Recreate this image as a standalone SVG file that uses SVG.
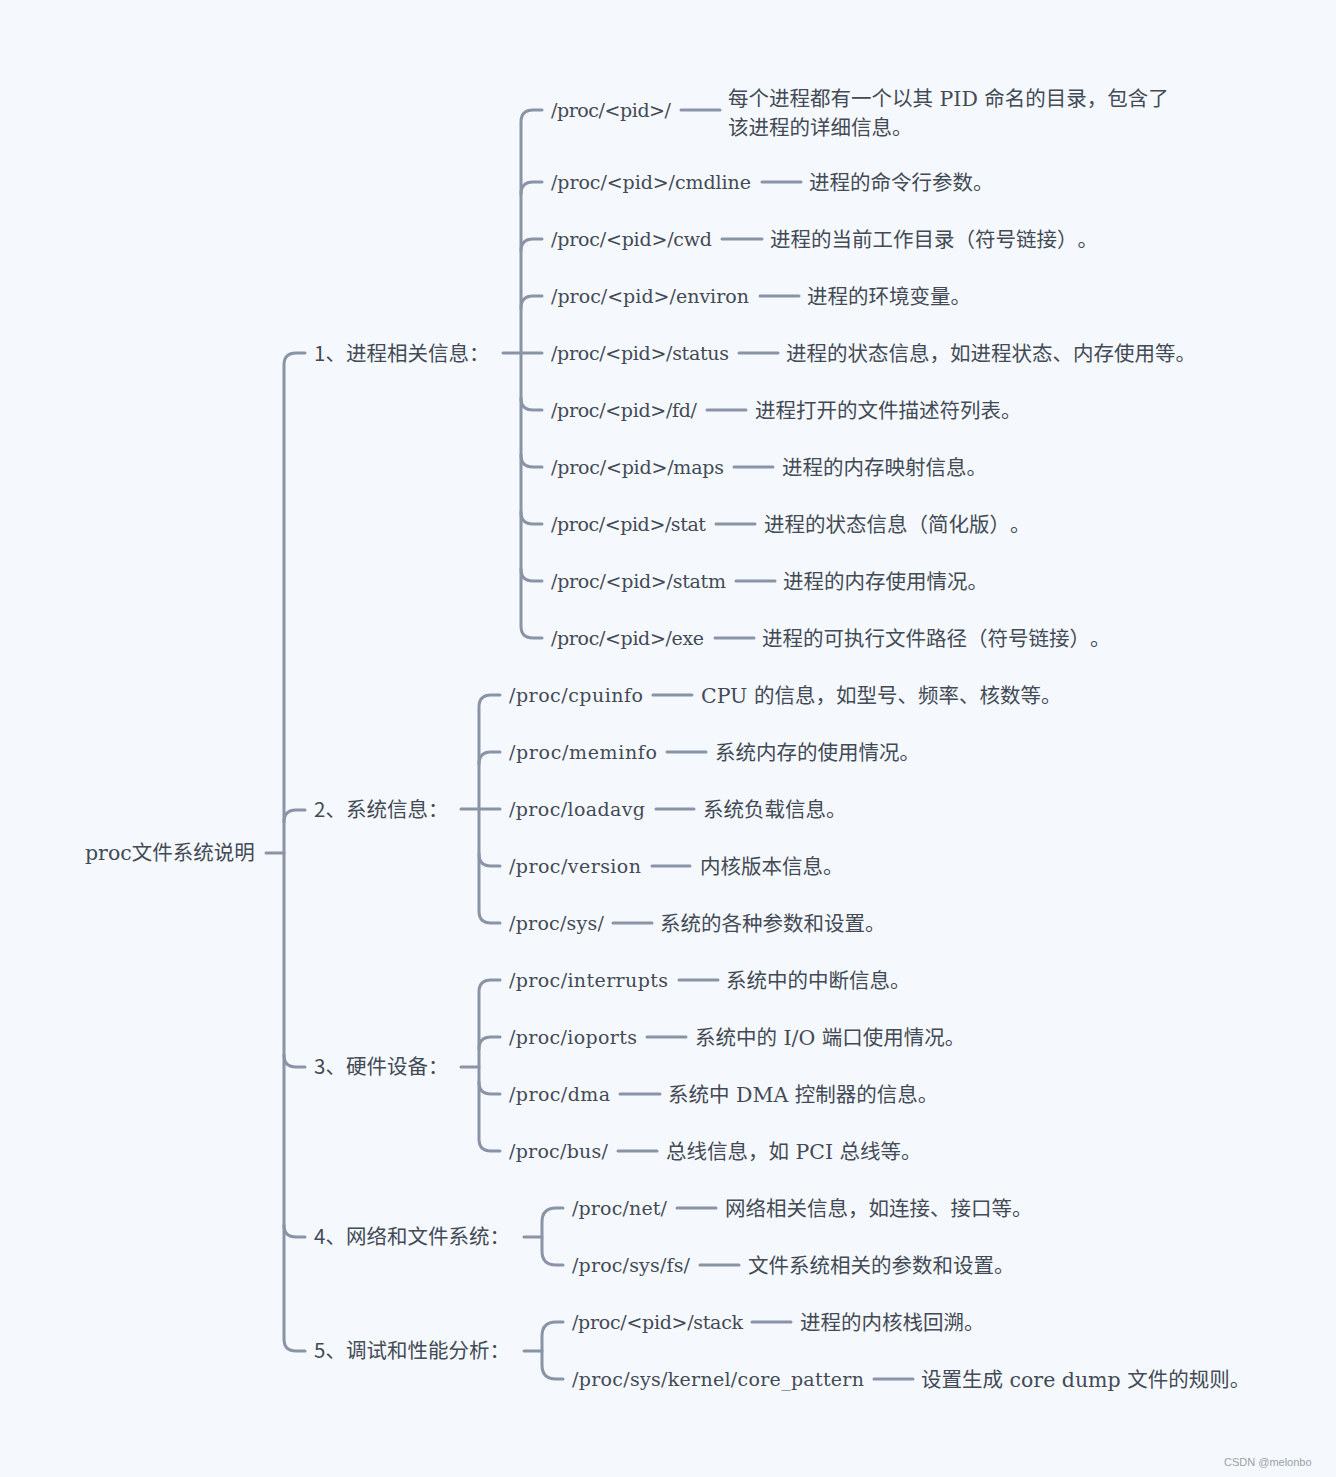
<svg xmlns="http://www.w3.org/2000/svg" width="1336" height="1477" viewBox="0 0 1336 1477">
<style>
.bg{fill:#f5f9fd}
.ln{fill:none;stroke:#8a94a6;stroke-width:3;stroke-linecap:round;stroke-linejoin:round}
text{text-spacing-trim:space-all}
.p{font-family:"DejaVu Serif","Liberation Serif",serif;font-size:19px;fill:#434a55}
.d{font-family:"DejaVu Serif","Noto Sans CJK SC",sans-serif;font-size:20.5px;fill:#434a55}
.l1{font-family:"Noto Sans CJK SC","Noto Sans",sans-serif;font-size:20.5px;fill:#434a55}
.r{font-family:"DejaVu Serif","Noto Sans CJK SC",serif;font-size:20.5px;fill:#434a55}
.wm{font-family:"Liberation Sans",Arial,sans-serif;font-size:11px;fill:#9aa0a8}
</style>
<rect class="bg" x="0" y="0" width="1336" height="1477"/>
<g id="connectors">
<path class="ln" d="M266,853 H284"/>
<path class="ln" d="M305,353 H296 Q284,353 284,365 V1339 Q284,1351 296,1351 H305"/>
<path class="ln" d="M284,822 Q284,810 296,810 H305"/>
<path class="ln" d="M284,1055 Q284,1067 296,1067 H305"/>
<path class="ln" d="M284,1225 Q284,1237 296,1237 H305"/>
<path class="ln" d="M503,353 H542"/>
<path class="ln" d="M542,110 H533 Q521,110 521,122 V626 Q521,638 533,638 H542"/>
<path class="ln" d="M521,194 Q521,182 533,182 H542"/>
<path class="ln" d="M521,251 Q521,239 533,239 H542"/>
<path class="ln" d="M521,308 Q521,296 533,296 H542"/>
<path class="ln" d="M521,398 Q521,410 533,410 H542"/>
<path class="ln" d="M521,455 Q521,467 533,467 H542"/>
<path class="ln" d="M521,512 Q521,524 533,524 H542"/>
<path class="ln" d="M521,569 Q521,581 533,581 H542"/>
<path class="ln" d="M461,809 H500"/>
<path class="ln" d="M500,695 H491 Q479,695 479,707 V911 Q479,923 491,923 H500"/>
<path class="ln" d="M479,764 Q479,752 491,752 H500"/>
<path class="ln" d="M479,854 Q479,866 491,866 H500"/>
<path class="ln" d="M461,1067 H479"/>
<path class="ln" d="M500,980 H491 Q479,980 479,992 V1139 Q479,1151 491,1151 H500"/>
<path class="ln" d="M479,1049 Q479,1037 491,1037 H500"/>
<path class="ln" d="M479,1082 Q479,1094 491,1094 H500"/>
<path class="ln" d="M524,1237 H542"/>
<path class="ln" d="M563,1208 H556 Q542,1208 542,1222 V1251 Q542,1265 556,1265 H563"/>
<path class="ln" d="M524,1351 H542"/>
<path class="ln" d="M563,1322 H556 Q542,1322 542,1336 V1365 Q542,1379 556,1379 H563"/>
<path class="ln" d="M681,110 H720"/>
<path class="ln" d="M762,182 H801"/>
<path class="ln" d="M722,239 H762"/>
<path class="ln" d="M760,296 H799"/>
<path class="ln" d="M739,353 H778"/>
<path class="ln" d="M707,410 H746"/>
<path class="ln" d="M734,467 H773"/>
<path class="ln" d="M716,524 H755"/>
<path class="ln" d="M736,581 H775"/>
<path class="ln" d="M715,638 H754"/>
<path class="ln" d="M653,695 H692"/>
<path class="ln" d="M667,752 H706"/>
<path class="ln" d="M656,809 H694"/>
<path class="ln" d="M652,866 H690"/>
<path class="ln" d="M613,923 H652"/>
<path class="ln" d="M679,980 H718"/>
<path class="ln" d="M647,1037 H686"/>
<path class="ln" d="M620,1094 H660"/>
<path class="ln" d="M618,1151 H657"/>
<path class="ln" d="M677,1208 H716"/>
<path class="ln" d="M700,1265 H739"/>
<path class="ln" d="M752,1322 H791"/>
<path class="ln" d="M874,1379 H913"/>
</g>
<g id="root"><text class="r" x="85" y="860">proc文件系统说明</text></g>
<g id="g1"><text class="l1" x="314" y="361">1、进程相关信息：</text></g>
<g id="g2"><text class="l1" x="314" y="817">2、系统信息：</text></g>
<g id="g3"><text class="l1" x="314" y="1074">3、硬件设备：</text></g>
<g id="g4"><text class="l1" x="314" y="1244">4、网络和文件系统：</text></g>
<g id="g5"><text class="l1" x="314" y="1358">5、调试和性能分析：</text></g>
<g id="n1"><text class="p" x="551" y="117" textLength="120">/proc/&lt;pid&gt;/</text><text class="d" x="728" y="106">每个进程都有一个以其 PID 命名的目录，包含了</text><text class="d" x="728" y="135">该进程的详细信息。</text></g>
<g id="n2"><text class="p" x="551" y="189" textLength="200">/proc/&lt;pid&gt;/cmdline</text><text class="d" x="809" y="190">进程的命令行参数。</text></g>
<g id="n3"><text class="p" x="551" y="246" textLength="161">/proc/&lt;pid&gt;/cwd</text><text class="d" x="770" y="247">进程的当前工作目录（符号链接）。</text></g>
<g id="n4"><text class="p" x="551" y="303" textLength="198">/proc/&lt;pid&gt;/environ</text><text class="d" x="807" y="304">进程的环境变量。</text></g>
<g id="n5"><text class="p" x="551" y="360" textLength="178">/proc/&lt;pid&gt;/status</text><text class="d" x="786" y="361">进程的状态信息，如进程状态、内存使用等。</text></g>
<g id="n6"><text class="p" x="551" y="417" textLength="146">/proc/&lt;pid&gt;/fd/</text><text class="d" x="755" y="418">进程打开的文件描述符列表。</text></g>
<g id="n7"><text class="p" x="551" y="474" textLength="173">/proc/&lt;pid&gt;/maps</text><text class="d" x="782" y="475">进程的内存映射信息。</text></g>
<g id="n8"><text class="p" x="551" y="531" textLength="155">/proc/&lt;pid&gt;/stat</text><text class="d" x="764" y="532">进程的状态信息（简化版）。</text></g>
<g id="n9"><text class="p" x="551" y="588" textLength="175">/proc/&lt;pid&gt;/statm</text><text class="d" x="783" y="589">进程的内存使用情况。</text></g>
<g id="n10"><text class="p" x="551" y="645" textLength="153">/proc/&lt;pid&gt;/exe</text><text class="d" x="762" y="646">进程的可执行文件路径（符号链接）。</text></g>
<g id="n11"><text class="p" x="509" y="702" textLength="134">/proc/cpuinfo</text><text class="d" x="701" y="703">CPU 的信息，如型号、频率、核数等。</text></g>
<g id="n12"><text class="p" x="509" y="759" textLength="148">/proc/meminfo</text><text class="d" x="715" y="760">系统内存的使用情况。</text></g>
<g id="n13"><text class="p" x="509" y="816" textLength="136">/proc/loadavg</text><text class="d" x="703" y="817">系统负载信息。</text></g>
<g id="n14"><text class="p" x="509" y="873" textLength="132">/proc/version</text><text class="d" x="700" y="874">内核版本信息。</text></g>
<g id="n15"><text class="p" x="509" y="930" textLength="95">/proc/sys/</text><text class="d" x="660" y="931">系统的各种参数和设置。</text></g>
<g id="n16"><text class="p" x="509" y="987" textLength="159">/proc/interrupts</text><text class="d" x="726" y="988">系统中的中断信息。</text></g>
<g id="n17"><text class="p" x="509" y="1044" textLength="128">/proc/ioports</text><text class="d" x="695" y="1045">系统中的 I/O 端口使用情况。</text></g>
<g id="n18"><text class="p" x="509" y="1101" textLength="101">/proc/dma</text><text class="d" x="668" y="1102">系统中 DMA 控制器的信息。</text></g>
<g id="n19"><text class="p" x="509" y="1158" textLength="99">/proc/bus/</text><text class="d" x="666" y="1159">总线信息，如 PCI 总线等。</text></g>
<g id="n20"><text class="p" x="572" y="1215" textLength="95">/proc/net/</text><text class="d" x="725" y="1216">网络相关信息，如连接、接口等。</text></g>
<g id="n21"><text class="p" x="572" y="1272" textLength="118">/proc/sys/fs/</text><text class="d" x="748" y="1273">文件系统相关的参数和设置。</text></g>
<g id="n22"><text class="p" x="572" y="1329" textLength="171">/proc/&lt;pid&gt;/stack</text><text class="d" x="800" y="1330">进程的内核栈回溯。</text></g>
<g id="n23"><text class="p" x="572" y="1386" textLength="292">/proc/sys/kernel/core_pattern</text><text class="d" x="921" y="1387">设置生成 core dump 文件的规则。</text></g>
<text class="wm" x="1224" y="1466">CSDN @melonbo</text>
</svg>
